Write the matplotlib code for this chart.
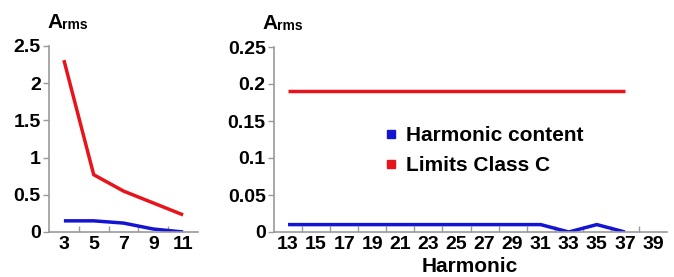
import matplotlib
matplotlib.use("Agg")
import matplotlib.pyplot as plt
from matplotlib.lines import Line2D
from matplotlib.ticker import FixedLocator
import numpy as np

# datos
harm_low = [3, 5, 7, 9, 11]
limits_low = [2.31, 0.77, 0.55, 0.39, 0.23]
content_low = [0.15, 0.15, 0.12, 0.04, 0.0]

harm_high = [13, 15, 17, 19, 21, 23, 25, 27, 29, 31, 33, 35, 37, 39]
limits_high = [0.19] * 13
content_high = [0.01, 0.01, 0.01, 0.01, 0.01, 0.01, 0.01, 0.01, 0.01, 0.01, 0.0, 0.01, 0.0]

plt.rcParams['font.family'] = ['Liberation Sans', 'DejaVu Sans']
plt.rcParams['font.weight'] = 'bold'

RED = '#e8141c'
BLUE = '#1414d2'
GRAY = '#9a9a9a'
FS = 14

fig = plt.figure(figsize=(6.74, 2.77), dpi=100)
W, H = 674, 277


def make_ax(x0, x1, ytop, ybot):
    return fig.add_axes([x0 / W, (H - ybot) / H, (x1 - x0) / W, (ybot - ytop) / H])


def style(ax, cats, ymax, yticks, ylabels):
    n = len(cats)
    ax.set_xlim(-0.5, n - 0.5)
    ax.set_ylim(0, ymax)
    for s in ['top', 'right']:
        ax.spines[s].set_visible(False)
    for s in ['left', 'bottom']:
        ax.spines[s].set_color(GRAY)
        ax.spines[s].set_linewidth(1.2)
    ax.set_xticks(range(n))
    ax.set_xticklabels([str(c) for c in cats], fontsize=FS, fontweight='bold')
    ax.tick_params(axis='x', which='major', length=0, pad=3)
    ax.xaxis.set_minor_locator(FixedLocator(np.arange(0.5, n - 0.5, 1.0)))
    ax.tick_params(axis='x', which='minor', direction='in', length=4, color=GRAY, width=1)
    ax.set_yticks(yticks)
    ax.set_yticklabels(ylabels, fontsize=FS, fontweight='bold')
    ax.tick_params(axis='y', direction='out', length=4, color=GRAY, width=1, pad=2)


# panel izquierdo
ax1 = make_ax(49, 198, 46, 232)
x1 = np.arange(len(harm_low))
ax1.plot(x1, limits_low, color=RED, lw=2.5, solid_capstyle='butt')
ax1.plot(x1, content_low, color=BLUE, lw=2.5, solid_capstyle='butt')
style(ax1, harm_low, 2.5, [0, 0.5, 1, 1.5, 2, 2.5], ['0', '0.5', '1', '1.5', '2', '2.5'])

# panel derecho
ax2 = make_ax(274, 667, 47, 232)
x2 = np.arange(len(limits_high))
ax2.plot(x2, limits_high, color=RED, lw=2.5, solid_capstyle='butt')
ax2.plot(np.arange(len(content_high)), content_high, color=BLUE, lw=2.5, solid_capstyle='butt')
style(ax2, harm_high, 0.25, [0, 0.05, 0.1, 0.15, 0.2, 0.25],
      ['0', '0.05', '0.1', '0.15', '0.2', '0.25'])

# titulo del eje x
fig.text(470 / W, (H - 267) / H, 'Harmonic', fontsize=15, fontweight='bold',
         ha='center', va='center')

handles = [Line2D([], [], ls='none', marker='s', markersize=6, color=BLUE),
           Line2D([], [], ls='none', marker='s', markersize=6, color=RED)]
ax2.legend(handles, ['Harmonic content', 'Limits Class C'], loc='center left',
           bbox_to_anchor=(0.235, 0.44), frameon=False, handlelength=0.6,
           handletextpad=0.4, labelspacing=0.55,
           prop={'size': 15, 'weight': 'bold'})

# etiquetas A_rms
for xa, yb in [(47, 28), (262, 29)]:
    fig.text(xa / W, (H - yb) / H, 'A', fontsize=15, fontweight='bold', va='baseline')
    fig.text((xa + 15) / W, (H - yb - 1) / H, 'rms', fontsize=10, fontweight='bold', va='baseline')

plt.savefig('out.png', dpi=100)
